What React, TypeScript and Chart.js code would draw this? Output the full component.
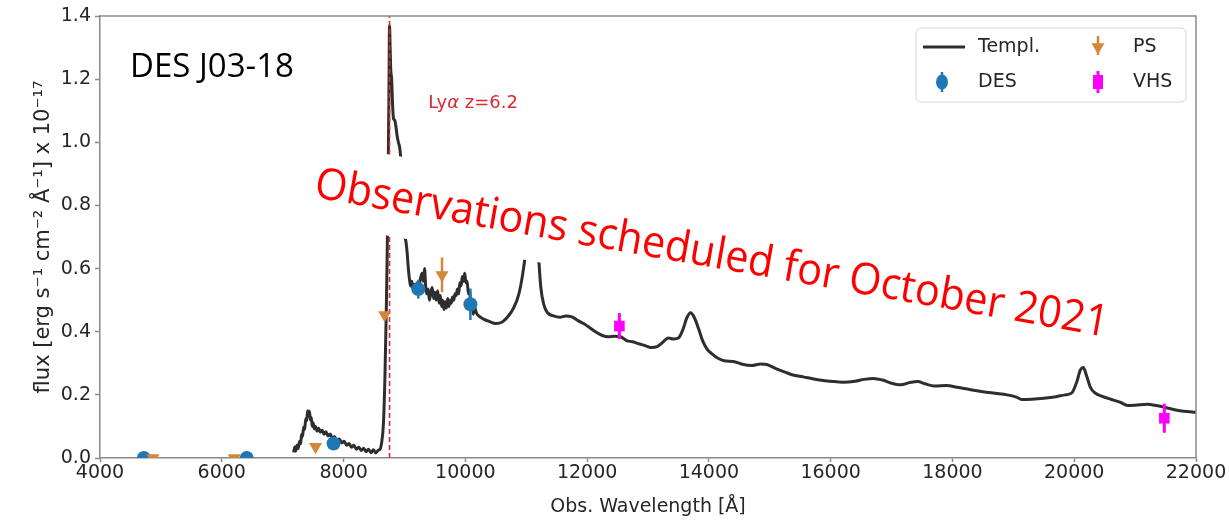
import React, { useEffect, useRef } from 'react';
import { Chart, registerables } from 'chart.js';

Chart.register(...registerables);

// ---------- data ----------
const TEMPL_WAVE = [
  7180, 7200, 7215, 7235, 7255, 7275, 7295, 7310, 7325, 7345, 7360, 7380, 7395, 7410, 7425, 7440, 7455, 7470,
  7485, 7500, 7520, 7540, 7565, 7590, 7620, 7650, 7680, 7710, 7745, 7780, 7815, 7850, 7890, 7930, 7970, 8010,
  8050, 8090, 8130, 8170, 8210, 8250, 8290, 8330, 8370, 8410, 8450, 8490, 8530, 8570, 8600, 8630, 8655, 8680,
  8700, 8715, 8730, 8745, 8755, 8765, 8775, 8790, 8805, 8820, 8840, 8860, 8880, 8900, 8920, 8935, 8950, 8965,
  8980, 9000, 9020, 9040, 9060, 9080, 9100, 9120, 9140, 9160, 9185, 9210, 9240, 9265, 9290, 9310, 9330, 9350,
  9370, 9390, 9410, 9430, 9455, 9480, 9500, 9520, 9545, 9570, 9590, 9610, 9630, 9650, 9670, 9690, 9710, 9730,
  9750, 9770, 9790, 9810, 9830, 9850, 9870, 9890, 9910, 9930, 9950, 9970, 9990, 10010, 10030, 10050, 10070,
  10090, 10110, 10130, 10150, 10180, 10220, 10300, 10400, 10500, 10600, 10700, 10800, 10880, 10940, 10990,
  11040, 11090, 11130, 11170, 11200, 11240, 11290, 11350, 11450, 11550, 11650, 11750, 11850, 11950, 12050,
  12150, 12250, 12350, 12450, 12550, 12650, 12750, 12850, 12950, 13050, 13150, 13250, 13330, 13420, 13500,
  13570, 13640, 13700, 13760, 13830, 13900, 13970, 14050, 14150, 14250, 14400, 14550, 14700, 14850, 14950,
  15100, 15250, 15400, 15550, 15700, 15850, 16000, 16200, 16400, 16550, 16700, 16850, 17000, 17150, 17300,
  17430, 17550, 17700, 17900, 18100, 18300, 18500, 18700, 18900, 19050, 19150, 19300, 19500, 19700, 19850,
  19960, 20040, 20100, 20150, 20200, 20270, 20350, 20450, 20600, 20750, 20880, 21000, 21200, 21350, 21500,
  21650, 21800, 22000,
];
const TEMPL_FLUX = [
  0.018, 0.035, 0.022, 0.040, 0.030, 0.052, 0.045, 0.075, 0.068, 0.098, 0.090, 0.125, 0.118, 0.150, 0.135, 0.148, 0.120, 0.128,
  0.100, 0.112, 0.092, 0.100, 0.085, 0.094, 0.082, 0.088, 0.075, 0.083, 0.070, 0.076, 0.062, 0.068, 0.055, 0.060, 0.048, 0.053,
  0.040, 0.046, 0.034, 0.040, 0.028, 0.034, 0.024, 0.031, 0.020, 0.028, 0.017, 0.026, 0.016, 0.025, 0.028, 0.055, 0.110, 0.260,
  0.450, 0.620, 0.850, 1.150, 1.370, 1.300, 1.230, 1.200, 1.120, 1.075, 1.070, 1.050, 1.020, 1.000, 0.985, 0.960, 0.920, 0.820,
  0.720, 0.700, 0.690, 0.660, 0.610, 0.570, 0.545, 0.560, 0.535, 0.550, 0.540, 0.555, 0.548, 0.570, 0.585, 0.560, 0.600, 0.540,
  0.520, 0.535, 0.500, 0.520, 0.540, 0.505, 0.525, 0.500, 0.530, 0.490, 0.515, 0.480, 0.500, 0.470, 0.495, 0.475, 0.505, 0.480,
  0.500, 0.490, 0.510, 0.500, 0.520, 0.515, 0.535, 0.520, 0.555, 0.545, 0.575, 0.560, 0.585, 0.555, 0.560, 0.520, 0.530,
  0.480, 0.500, 0.455, 0.480, 0.460, 0.450, 0.440, 0.432, 0.426, 0.430, 0.448, 0.478, 0.520, 0.580, 0.650,
  0.740, 0.800, 0.820, 0.760, 0.650, 0.540, 0.485, 0.460, 0.450, 0.446, 0.450, 0.447, 0.435, 0.425, 0.412,
  0.398, 0.388, 0.384, 0.386, 0.384, 0.372, 0.368, 0.362, 0.356, 0.350, 0.353, 0.368, 0.380, 0.377, 0.380,
  0.405, 0.445, 0.460, 0.445, 0.410, 0.370, 0.345, 0.330, 0.316, 0.308, 0.306, 0.297, 0.293, 0.298, 0.296,
  0.283, 0.272, 0.262, 0.257, 0.251, 0.246, 0.243, 0.240, 0.243, 0.249, 0.252, 0.247, 0.237, 0.232, 0.239,
  0.242, 0.235, 0.228, 0.230, 0.223, 0.216, 0.210, 0.205, 0.200, 0.193, 0.185, 0.186, 0.189, 0.194, 0.200,
  0.206, 0.240, 0.278, 0.287, 0.262, 0.222, 0.205, 0.196, 0.186, 0.177, 0.166, 0.167, 0.170, 0.166, 0.160,
  0.153, 0.148, 0.145,
];

const DES_WAVE = [4720, 6410, 7836, 9228, 10083];
const DES_FLUX = [0.0, 0.0, 0.046, 0.535, 0.487];
const DES_ERR = [0.01, 0.01, 0.012, 0.03, 0.05];

const PS_WAVE = [4870, 6206, 7540, 8675, 9617];
const PS_FLUX = [0.0, 0.0, 0.036, 0.453, 0.58];
const PS_ERR = [0.0, 0.0, 0.0, 0.0, 0.055];

const VHS_WAVE = [12530, 21480];
const VHS_FLUX = [0.418, 0.126];
const VHS_ERR = [0.041, 0.046];

const LYA_WAVE = 8755;
const LYA_LABEL_WAVE = 9390;
const LYA_LABEL_FLUX = 1.124;

const X_MIN = 4000;
const X_MAX = 22000;
const X_STEP = 2000;
const Y_MIN = 0;
const Y_MAX = 1.4;
const Y_STEP = 0.2;

const LEGEND_LABELS = ['Templ.', 'DES', 'PS', 'VHS'];
const TITLE_TEXT = 'DES J03-18';
const BIG_TEXT = 'Observations scheduled for October 2021';
const X_TITLE = 'Obs. Wavelength [Å]';
const Y_TITLE = 'flux [erg s⁻¹ cm⁻² Å⁻¹] x 10⁻¹⁷';

// ---------- styles ----------
const TEMPL_COLOR = '#2e2e2e';
const DES_COLOR = '#1f77b4';
const PS_COLOR = '#d4873a';
const VHS_COLOR = '#ff00ff';
const LYA_COLOR = '#dc2a32';
const AXIS_COLOR = '#8a8a8a';
const TEXT_COLOR = '#262626';
const MPL_FONT = '"DejaVu Sans", sans-serif';
const PPT_FONT = '"Open Sans", sans-serif';

const toXY = (xs: number[], ys: number[]) => xs.map((x, i) => ({ x, y: ys[i] }));

function triDown(ctx: CanvasRenderingContext2D, x: number, y: number, r: number) {
  ctx.beginPath();
  ctx.moveTo(x, y + r);
  ctx.lineTo(x - 0.866 * r, y - 0.5 * r);
  ctx.lineTo(x + 0.866 * r, y - 0.5 * r);
  ctx.closePath();
  ctx.fill();
}

const overlayPlugin = {
  id: 'overlay',
  afterDatasetDraw(chart: any, args: any) {
    if (args.index !== 0) return;
    const { ctx, chartArea: a, scales } = chart;
    const xs = scales.x;
    const ys = scales.y;
    ctx.save();
    ctx.beginPath();
    ctx.rect(a.left, a.top, a.right - a.left, a.bottom - a.top);
    ctx.clip();
    // Lyman alpha line
    const lx = xs.getPixelForValue(LYA_WAVE);
    ctx.strokeStyle = LYA_COLOR;
    ctx.lineWidth = 1.6;
    ctx.setLineDash([5, 3]);
    ctx.beginPath();
    ctx.moveTo(lx, ys.getPixelForValue(Y_MIN));
    ctx.lineTo(lx, ys.getPixelForValue(Y_MAX));
    ctx.stroke();
    ctx.setLineDash([]);
    // error bars
    const bars = (w: number[], f: number[], e: number[], color: string, lw: number) => {
      ctx.strokeStyle = color;
      ctx.lineWidth = lw;
      w.forEach((wv, i) => {
        if (!e[i]) return;
        const px = xs.getPixelForValue(wv);
        ctx.beginPath();
        ctx.moveTo(px, ys.getPixelForValue(f[i] - e[i]));
        ctx.lineTo(px, ys.getPixelForValue(f[i] + e[i]));
        ctx.stroke();
      });
    };
    bars(DES_WAVE, DES_FLUX, DES_ERR, DES_COLOR, 2.5);
    bars(PS_WAVE, PS_FLUX, PS_ERR, PS_COLOR, 2.5);
    bars(VHS_WAVE, VHS_FLUX, VHS_ERR, VHS_COLOR, 3);
    ctx.restore();
  },
  afterDraw(chart: any) {
    const { ctx, chartArea: a, scales } = chart;
    const xs = scales.x;
    const ys = scales.y;
    ctx.save();

    // Lya label
    ctx.fillStyle = LYA_COLOR;
    ctx.textBaseline = 'middle';
    ctx.textAlign = 'left';
    let tx = xs.getPixelForValue(LYA_LABEL_WAVE);
    const ty = ys.getPixelForValue(LYA_LABEL_FLUX);
    ctx.font = `18px ${MPL_FONT}`;
    ctx.fillText('Ly', tx, ty);
    tx += ctx.measureText('Ly').width;
    ctx.font = `italic 18px ${MPL_FONT}`;
    ctx.fillText('α', tx, ty);
    tx += ctx.measureText('α').width;
    ctx.font = `18px ${MPL_FONT}`;
    ctx.fillText(' z=6.2', tx, ty);

    // object name
    ctx.fillStyle = '#000';
    ctx.font = `33px ${PPT_FONT}`;
    ctx.textBaseline = 'alphabetic';
    ctx.fillText(TITLE_TEXT, 130, 77);

    // big rotated annotation with white backing
    ctx.save();
    ctx.translate(313, 197);
    ctx.rotate((10 * Math.PI) / 180);
    ctx.font = `44px ${PPT_FONT}`;
    const w = ctx.measureText(BIG_TEXT).width;
    const target = 805;
    ctx.fillStyle = '#ffffff';
    ctx.fillRect(-10, -55, target + 20, 80);
    ctx.scale(target / w, 1);
    ctx.fillStyle = '#ff0000';
    ctx.fillText(BIG_TEXT, 0, 0);
    ctx.restore();

    // top and right spines
    ctx.strokeStyle = AXIS_COLOR;
    ctx.lineWidth = 1.5;
    ctx.beginPath();
    ctx.moveTo(a.left, a.top);
    ctx.lineTo(a.right, a.top);
    ctx.lineTo(a.right, a.bottom);
    ctx.stroke();

    // legend
    const lx = 916, ly = 28, lw = 270, lh = 74;
    ctx.beginPath();
    ctx.roundRect(lx, ly, lw, lh, 5);
    ctx.fillStyle = 'rgba(255,255,255,0.85)';
    ctx.fill();
    ctx.strokeStyle = '#d6d6d6';
    ctx.lineWidth = 1;
    ctx.stroke();

    const row1 = 47, row2 = 82;
    // Templ.
    ctx.strokeStyle = TEMPL_COLOR;
    ctx.lineWidth = 3;
    ctx.beginPath();
    ctx.moveTo(923, row1);
    ctx.lineTo(965, row1);
    ctx.stroke();
    // DES
    ctx.strokeStyle = DES_COLOR;
    ctx.lineWidth = 2.5;
    ctx.beginPath();
    ctx.moveTo(942, row2 - 10);
    ctx.lineTo(942, row2 + 10);
    ctx.stroke();
    ctx.fillStyle = DES_COLOR;
    ctx.beginPath();
    ctx.ellipse(942, row2, 6, 7.5, 0, 0, Math.PI * 2);
    ctx.fill();
    // PS
    ctx.strokeStyle = PS_COLOR;
    ctx.beginPath();
    ctx.moveTo(1098, row1 - 11);
    ctx.lineTo(1098, row1 + 8);
    ctx.stroke();
    ctx.fillStyle = PS_COLOR;
    triDown(ctx, 1098, row1, 7.5);
    // VHS
    ctx.strokeStyle = VHS_COLOR;
    ctx.lineWidth = 3;
    ctx.beginPath();
    ctx.moveTo(1098, row2 - 11);
    ctx.lineTo(1098, row2 + 11);
    ctx.stroke();
    ctx.fillStyle = VHS_COLOR;
    ctx.fillRect(1093, row2 - 7, 10, 14);

    ctx.fillStyle = TEXT_COLOR;
    ctx.font = `19px ${MPL_FONT}`;
    ctx.textBaseline = 'middle';
    ctx.fillText(LEGEND_LABELS[0], 978, row1);
    ctx.fillText(LEGEND_LABELS[1], 978, row2);
    ctx.fillText(LEGEND_LABELS[2], 1133, row1);
    ctx.fillText(LEGEND_LABELS[3], 1133, row2);

    ctx.restore();
  },
};

export default function App() {
  const ref = useRef<HTMLCanvasElement | null>(null);

  useEffect(() => {
    if (!ref.current) return;
    const tickFont = { family: MPL_FONT, size: 19 };
    const chart = new Chart(ref.current, {
      type: 'scatter',
      data: {
        datasets: [
          {
            label: 'Templ.',
            data: toXY(TEMPL_WAVE, TEMPL_FLUX),
            showLine: true,
            borderColor: TEMPL_COLOR,
            borderWidth: 3,
            pointRadius: 0,
            cubicInterpolationMode: 'monotone',
            order: 10,
            clip: 0,
          } as any,
          {
            label: 'DES',
            data: toXY(DES_WAVE, DES_FLUX),
            pointStyle: 'circle',
            pointRadius: 7,
            backgroundColor: DES_COLOR,
            borderColor: DES_COLOR,
            borderWidth: 0,
            order: 3,
            clip: 0,
          } as any,
          {
            label: 'PS',
            data: toXY(PS_WAVE, PS_FLUX),
            pointStyle: 'triangle',
            rotation: 180,
            pointRadius: 7.5,
            backgroundColor: PS_COLOR,
            borderColor: PS_COLOR,
            borderWidth: 0,
            order: 2,
            clip: 0,
          } as any,
          {
            label: 'VHS',
            data: toXY(VHS_WAVE, VHS_FLUX),
            pointStyle: 'rect',
            pointRadius: 7.5,
            backgroundColor: VHS_COLOR,
            borderColor: VHS_COLOR,
            borderWidth: 0,
            order: 1,
            clip: 0,
          } as any,
        ],
      },
      options: {
        animation: false,
        responsive: false,
        events: [],
        layout: { padding: { top: 16, right: 33, left: 0, bottom: 0 } },
        plugins: {
          legend: { display: false },
          tooltip: { enabled: false },
        },
        scales: {
          x: {
            type: 'linear',
            min: X_MIN,
            max: X_MAX,
            afterFit: (s: any) => {
              s.height = 62;
            },
            ticks: {
              stepSize: X_STEP,
              font: tickFont,
              color: TEXT_COLOR,
              padding: 0,
              maxRotation: 0,
              callback: (v: any) => String(v),
            },
            grid: { drawOnChartArea: false, drawTicks: true, tickLength: 4, color: AXIS_COLOR, tickWidth: 1.5 },
            border: { display: true, color: AXIS_COLOR, width: 1.5 },
            title: {
              display: true,
              text: X_TITLE,
              font: { family: MPL_FONT, size: 19 },
              color: TEXT_COLOR,
              padding: { top: 0, bottom: 2 },
            },
          },
          y: {
            type: 'linear',
            min: Y_MIN,
            max: Y_MAX,
            afterFit: (s: any) => {
              s.width = 100;
            },
            ticks: {
              stepSize: Y_STEP,
              font: tickFont,
              color: TEXT_COLOR,
              padding: 4,
              callback: (v: any) => Number(v).toFixed(1),
            },
            grid: { drawOnChartArea: false, drawTicks: true, tickLength: 5, color: AXIS_COLOR, tickWidth: 1.5 },
            border: { display: true, color: AXIS_COLOR, width: 1.5 },
            title: {
              display: true,
              text: Y_TITLE,
              font: { family: MPL_FONT, size: 21 },
              color: TEXT_COLOR,
              padding: { top: 31, bottom: 0 },
            },
          },
        },
      },
      plugins: [overlayPlugin],
    } as any);
    return () => chart.destroy();
  }, []);

  return (
    <div style={{ position: 'fixed', left: 0, top: 0, width: 1229, height: 520, background: '#fff' }}>
      <canvas ref={ref} width={1229} height={520} style={{ display: 'block' }} />
    </div>
  );
}
